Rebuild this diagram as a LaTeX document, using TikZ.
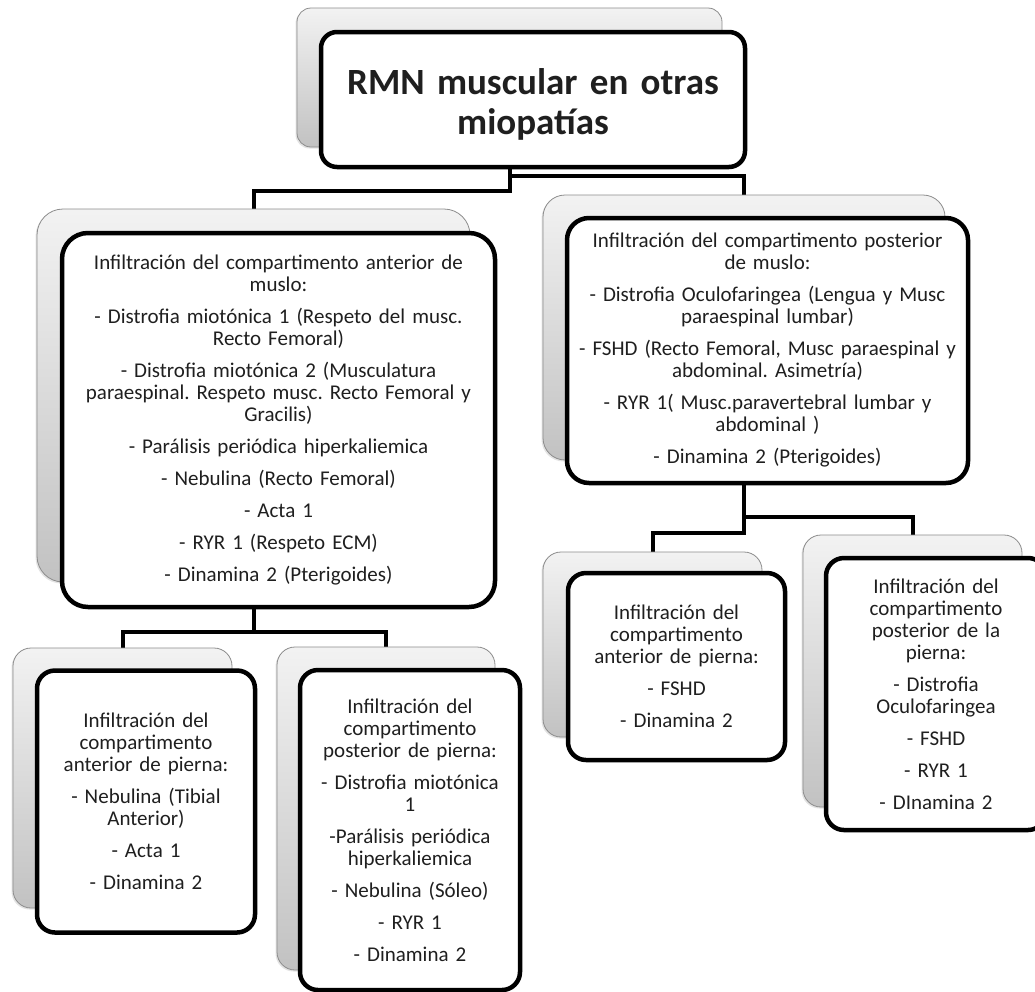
\documentclass[tikz,border=0pt]{standalone}
\usepackage{fontspec}
\setmainfont{Carlito}
\frenchspacing
\usetikzlibrary{shadows}
\pgfdeclarelayer{back}
\pgfsetlayers{back,main}
% extra space between list entries
\newcommand\pgap{\\[10pt]}

\begin{document}
\begin{tikzpicture}[x=1pt,y=-1pt,
  card/.style={rounded corners=#1, draw=black!45, line width=0.8pt,
    top color=black!5, bottom color=black!24, inner sep=0pt,
    drop shadow={opacity=0.22, shadow xshift=-1.5pt, shadow yshift=-1.5pt}},
  front/.style={rounded corners=#1, draw=black, line width=4.5pt, fill=white,
    align=center, inner sep=0pt, text=black!88,
    font=\fontsize{21}{22}\selectfont\frenchspacing},
  conn/.style={draw=black, line width=4pt}]
\useasboundingbox (0,0) rectangle (1035,991);

% root
\node[card=14, minimum width=425pt, minimum height=139pt] (topS) at (509.5,77.5) {};
\node[front=16, minimum width=424pt, minimum height=135pt, text width=410pt,
  font=\bfseries\fontsize{37}{40}\selectfont] (top) at (533,99.5)
  {\raisebox{-5pt}[\height][\depth]{\parbox{410pt}{\centering RMN muscular en otras\\miopatías}}};

% thigh, anterior
\node[card=26, minimum width=433pt, minimum height=373pt] (L1S) at (253.5,395.5) {};
\node[front=26, minimum width=433pt, minimum height=374pt, text width=423pt] (L1) at (278.5,420)
  {Infiltración del compartimento anterior de\\muslo:\pgap
   - Distrofia miotónica 1 (Respeto del musc.\\Recto Femoral)\pgap
   - Distrofia miotónica 2 (Musculatura\\paraespinal. Respeto musc. Recto Femoral y\\Gracilis)\pgap
   - Parálisis periódica hiperkaliemica\pgap
   - Nebulina (Recto Femoral)\pgap
   - Acta 1\pgap
   - RYR 1 (Respeto ECM)\pgap
   - Dinamina 2 (Pterigoides)};

% thigh, posterior
\node[card=22, minimum width=402pt, minimum height=265pt] (R1S) at (744,327.5) {};
\node[front=22, minimum width=401pt, minimum height=265pt, text width=391pt] (R1) at (767.5,350.5)
  {Infiltración del compartimento posterior\\de muslo:\pgap
   - Distrofia Oculofaringea (Lengua y Musc\\paraespinal lumbar)\pgap
   - FSHD (Recto Femoral, Musc paraespinal y\\abdominal. Asimetría)\pgap
   - RYR 1( Musc.paravertebral lumbar y\\abdominal )\pgap
   - Dinamina 2 (Pterigoides)};

% leg, anterior (under anterior thigh)
\node[card=18, minimum width=219pt, minimum height=260pt] (LLS) at (122.5,778) {};
\node[front=18, minimum width=218pt, minimum height=262pt, text width=208pt] (LL) at (146,801.5)
  {Infiltración del\\compartimento\\anterior de pierna:\pgap
   - Nebulina (Tibial\\Anterior)\pgap
   - Acta 1\pgap
   - Dinamina 2};

% leg, posterior (under anterior thigh)
\node[card=18, minimum width=218pt, minimum height=323pt] (LRS) at (386,808.5) {};
\node[front=18, minimum width=220pt, minimum height=320pt, text width=210pt] (LR) at (410,830)
  {Infiltración del\\compartimento\\posterior de pierna:\pgap
   - Distrofia miotónica\\1\pgap
   -Parálisis periódica\\hiperkaliemica\pgap
   - Nebulina (Sóleo)\pgap
   - RYR 1\pgap
   - Dinamina 2};

% leg, anterior (under posterior thigh)
\node[card=18, minimum width=219pt, minimum height=185pt] (RLS) at (652.5,644.5) {};
\node[front=18, minimum width=217pt, minimum height=187pt, text width=207pt] (RL) at (676.5,666.5)
  {Infiltración del\\compartimento\\anterior de pierna:\pgap
   - FSHD\pgap
   - Dinamina 2};

% leg, posterior (under posterior thigh)
\node[card=18, minimum width=219pt, minimum height=272pt] (RRS) at (912.5,671) {};
\node[front=18, minimum width=220pt, minimum height=272pt, text width=210pt] (RR) at (936,694)
  {Infiltración del\\compartimento\\posterior de la\\pierna:\pgap
   - Distrofia\\Oculofaringea\pgap
   - FSHD\pgap
   - RYR 1\pgap
   - DInamina 2};

% elbow connectors behind the cards
\begin{pgfonlayer}{back}
  \draw[conn] (topS.south) -- ++(0,44) -| (L1S.north);
  \draw[conn] (topS.south) -- ++(0,29) -| (R1S.north);
  \draw[conn] (L1S.south) -- ++(0,50) -| (LLS.north);
  \draw[conn] (L1S.south) -- ++(0,50) -| (LRS.north);
  \draw[conn] (R1S.south) -- ++(0,57) -| (RRS.north);
  \draw[conn] (R1S.south) -- ++(0,73) -| (RLS.north);
\end{pgfonlayer}
\end{tikzpicture}
\end{document}
